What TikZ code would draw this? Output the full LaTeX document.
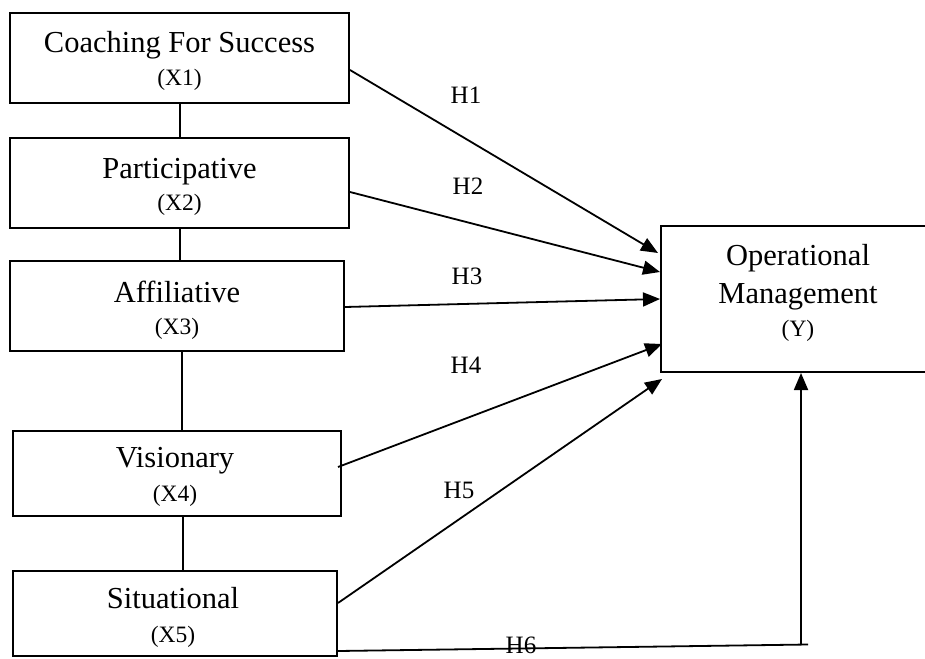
\documentclass[tikz,border=0pt]{standalone}
\usepackage{fontspec}
\setmainfont{Liberation Serif}
\usetikzlibrary{arrows.meta}
\begin{document}
\begin{tikzpicture}[x=1pt,y=-1pt,
  box/.style={draw,line width=2pt,rectangle,inner sep=0pt},
  maintxt/.style={anchor=base,inner sep=0pt,font=\fontsize{30.5}{34}\selectfont},
  subtxt/.style={anchor=base,inner sep=0pt,font=\fontsize{23.5}{26}\selectfont},
  hlab/.style={anchor=base,inner sep=0pt,font=\fontsize{25}{28}\selectfont},
  link/.style={line width=1.8pt},
  arr/.style={line width=1.8pt,-{Triangle[length=17pt,width=14pt]}}]
\useasboundingbox (0,0) rectangle (925,658);
% boxes
\node[box,minimum width=339pt,minimum height=90pt] (X1) at (179.5,58) {};
\node[box,minimum width=339pt,minimum height=90pt] (X2) at (179.5,183) {};
\node[box,minimum width=334pt,minimum height=90pt] (X3) at (177,306) {};
\node[box,minimum width=328pt,minimum height=85pt] (X4) at (177,473.5) {};
\node[box,minimum width=324pt,minimum height=85pt] (X5) at (175,613.5) {};
\node[box,minimum width=274pt,minimum height=146pt] (Y) at (798,299) {};
% texts
\node[maintxt] (t1) at (179.5,53) {Coaching For Success};
\node[subtxt] (s1) at (179.5,86) {(X1)};
\node[maintxt] (t2) at (179.5,178) {Participative};
\node[subtxt] (s2) at (179.5,210) {(X2)};
\node[maintxt] (t3) at (177,302) {Affiliative};
\node[subtxt] (s3) at (177,334) {(X3)};
\node[maintxt] (t4) at (175,467) {Visionary};
\node[subtxt] (s4) at (175,501) {(X4)};
\node[maintxt] (t5) at (173,608) {Situational};
\node[subtxt] (s5) at (173,642) {(X5)};
\node[maintxt] (ty1) at (798,265) {Operational};
\node[maintxt] (ty2) at (798,303) {Management};
\node[subtxt] (ty3) at (798,336) {(Y)};
% vertical links
\draw[link] (180,0 |- X1.south) -- (180,0 |- X2.north);
\draw[link] (180,0 |- X2.south) -- (180,0 |- X3.north);
\draw[link] (182,0 |- X3.south) -- (182,0 |- X4.north);
\draw[link] (183,0 |- X4.south) -- (183,0 |- X5.north);
% arrows
\draw[arr] ([yshift=-12pt]X1.east) -- ([xshift=-2pt,yshift=46pt]Y.west);
\draw[arr] ([yshift=-9pt]X2.east) -- ([yshift=27pt]Y.west);
\draw[arr] ([yshift=-1pt]X3.east) -- (Y.west);
\draw[arr] ([xshift=-4pt,yshift=6.5pt]X4.east) -- ([xshift=2pt,yshift=-45pt]Y.west);
\draw[arr] ([yshift=10.5pt]X5.east) -- ([xshift=2pt,yshift=-6pt]Y.south west);
\coordinate (c6) at (801,645);
\coordinate (c6e) at (808,644.5);
\draw[link] ([yshift=6pt]X5.east |- X5.south) -- (c6e);
\draw[arr] (c6) -- (c6 |- Y.south);
% labels
\node[hlab] (h1) at (466,103) {H1};
\node[hlab] (h2) at (468,194) {H2};
\node[hlab] (h3) at (467,284) {H3};
\node[hlab] (h4) at (466,373) {H4};
\node[hlab] (h5) at (459,498) {H5};
\node[hlab] (h6) at (521,653) {H6};
\end{tikzpicture}
\end{document}
